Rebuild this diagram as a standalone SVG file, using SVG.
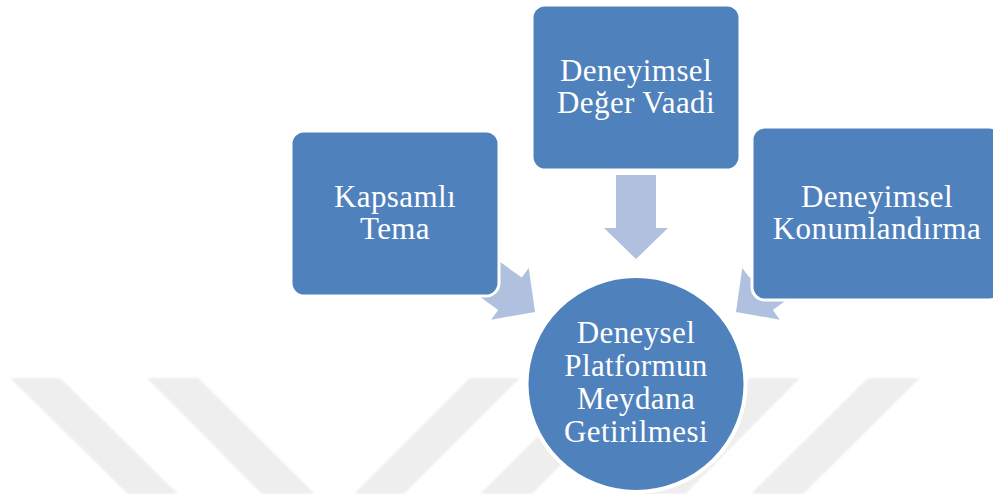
<svg xmlns="http://www.w3.org/2000/svg" width="993" height="494" viewBox="0 0 993 494">
  <style>
    .stripe { fill: #eeeeee; }
    .box { fill: #4f81bd; stroke: #ffffff; stroke-width: 3; }
    .hub { fill: #4f81bd; stroke: #ffffff; stroke-width: 4; }
    .arrow { fill: #afc1de; }
    .label { font-family: 'Liberation Serif', 'Times New Roman', serif; font-size: 31px; fill: #ffffff; text-anchor: middle; }
    .wide { letter-spacing: 0.4px; }
  </style>
  <defs>
    <!-- block arrow pointing along +x, tip at the origin -->
    <path id="blockArrow" d="M0,0 L-31,-32 L-31,-20 L-84,-20 L-84,20 L-31,20 L-31,32 Z"/>
    <filter id="soft" x="-5%" y="-5%" width="110%" height="110%">
      <feGaussianBlur stdDeviation="1.2"/>
    </filter>
  </defs>

  <rect width="993" height="494" fill="#ffffff"/>

  <!-- background diagonal bands -->
  <g id="background" filter="url(#soft)">
    <polygon class="stripe" points="10,378 60,378 178,494 128,494"/>
    <polygon class="stripe" points="147,378 198,378 315,494 262,494"/>
    <polygon class="stripe" points="470,378 520,378 404,494 354,494"/>
    <polygon class="stripe" points="596,378 648,378 532,494 480,494"/>
    <polygon class="stripe" points="750,378 800,378 685,494 634,494"/>
    <polygon class="stripe" points="868,378 920,378 803,494 751,494"/>
  </g>

  <!-- connectors -->
  <g id="connectors">
    <use href="#blockArrow" class="arrow" transform="translate(636,259) rotate(90)"/>
    <use href="#blockArrow" class="arrow" transform="translate(535,312) rotate(36)"/>
    <use href="#blockArrow" class="arrow" transform="translate(736,312) rotate(144)"/>
  </g>

  <g id="node-kapsamli-tema">
    <rect class="box" x="291" y="131" width="208" height="165" rx="13"/>
    <text class="label wide" x="395" y="207">Kapsamlı</text>
    <text class="label wide" x="395" y="239">Tema</text>
  </g>

  <g id="node-deger-vaadi">
    <rect class="box" x="532" y="5" width="208" height="165" rx="13"/>
    <text class="label wide" x="636" y="81">Deneyimsel</text>
    <text class="label wide" x="636" y="113">Değer Vaadi</text>
  </g>

  <g id="node-konumlandirma">
    <rect class="box" x="752" y="127" width="250" height="173" rx="13"/>
    <text class="label wide" x="877" y="207">Deneyimsel</text>
    <text class="label wide" x="877" y="239">Konumlandırma</text>
  </g>

  <g id="node-platform">
    <ellipse class="hub" cx="636" cy="384" rx="109.5" ry="108"/>
    <text class="label wide" x="636" y="342.5">Deneysel</text>
    <text class="label wide" x="636" y="375.5">Platformun</text>
    <text class="label wide" x="636" y="408.5">Meydana</text>
    <text class="label wide" x="636" y="441.5">Getirilmesi</text>
  </g>
</svg>
